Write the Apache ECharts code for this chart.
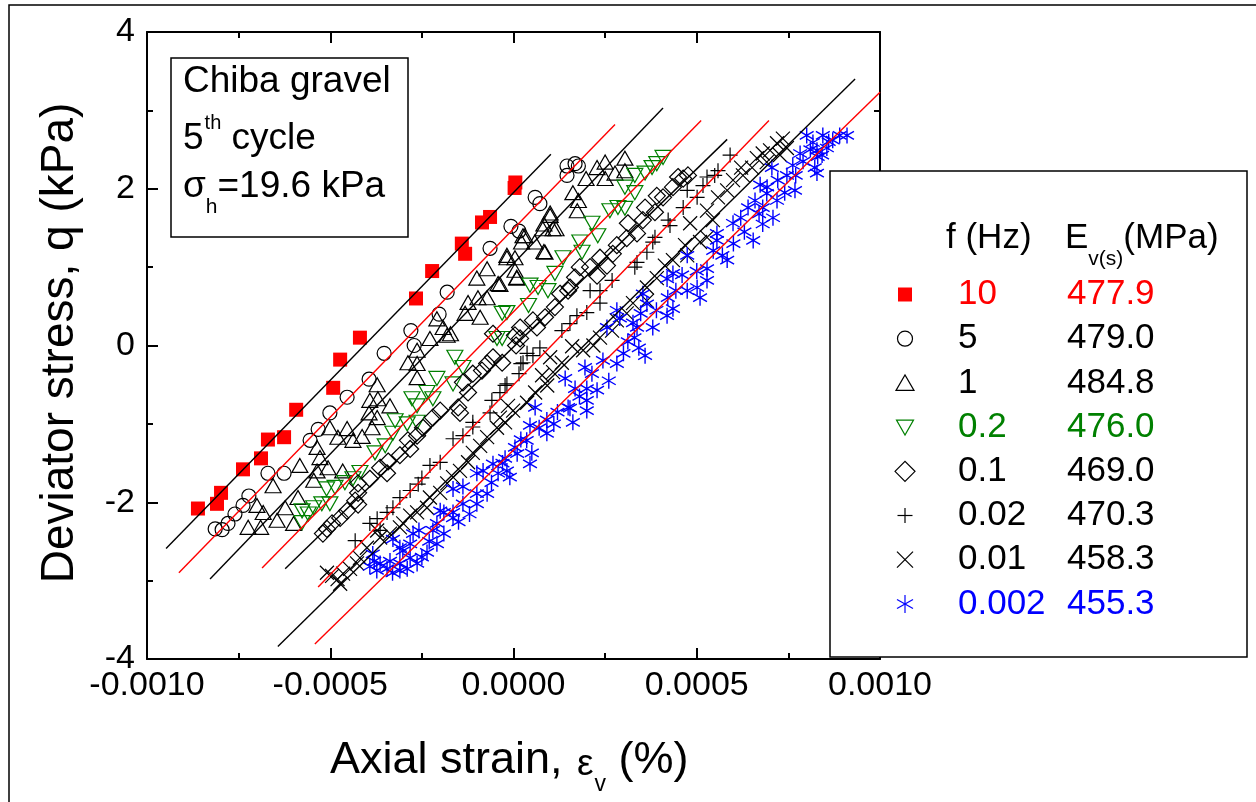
<!DOCTYPE html>
<html><head><meta charset="utf-8">
<script src="https://cdn.jsdelivr.net/npm/echarts@6/dist/echarts.min.js"></script>
<style>html,body{margin:0;padding:0;background:#fff}#c{width:1256px;height:802px}</style>
</head><body><div id="c"></div><script>
// ---------- data (strain %, deviator stress kPa) ----------
const xTicks = [-0.0010, -0.0005, 0.0000, 0.0005, 0.0010];
const yTicks = [-4, -2, 0, 2, 4];
const freqLabels = ['10', '5', '1', '0.2', '0.1', '0.02', '0.01', '0.002'];
const eLabels = ['477.9', '479.0', '484.8', '476.0', '469.0', '470.3', '458.3', '455.3'];

const s10 = [[-0.000861,-2.08],[-0.000809,-2.02],[-0.000798,-1.88],[-0.000738,-1.58],[-0.000689,-1.44],[-0.000670,-1.20],[-0.000626,-1.17],[-0.000593,-0.82],[-0.000492,-0.54],[-0.000473,-0.18],[-0.000419,0.10],[-0.000266,0.60],[-0.000222,0.95],[-0.000141,1.30],[-0.000132,1.17],[-0.000086,1.57],[-0.000064,1.64],[0.000005,2.08],[0.000003,2.01]];
const s5 = [[-0.000814,-2.34],[-0.000795,-2.35],[-0.000779,-2.27],[-0.000760,-2.15],[-0.000738,-2.04],[-0.000722,-1.92],[-0.000670,-1.63],[-0.000626,-1.63],[-0.000555,-1.21],[-0.000533,-1.07],[-0.000501,-0.86],[-0.000454,-0.66],[-0.000394,-0.43],[-0.000353,-0.10],[-0.000271,0.00],[-0.000280,0.19],[-0.000203,0.40],[-0.000181,0.68],[-0.000064,1.24],[-0.000007,1.52],[0.000015,1.46],[0.000059,1.89],[0.000072,1.81],[0.000146,2.29],[0.000168,2.32],[0.000146,2.17],[0.000177,2.29]];
const s1 = [[-0.000724,-2.32],[-0.000690,-2.32],[-0.000700,-2.04],[-0.000683,-2.13],[-0.000645,-2.23],[-0.000600,-2.27],[-0.000623,-2.07],[-0.000588,-1.94],[-0.000656,-1.79],[-0.000545,-1.72],[-0.000583,-1.53],[-0.000536,-1.60],[-0.000506,-1.56],[-0.000466,-1.60],[-0.000536,-1.30],[-0.000528,-1.43],[-0.000501,-1.05],[-0.000479,-1.17],[-0.000454,-1.06],[-0.000438,-1.21],[-0.000413,-1.16],[-0.000386,-1.05],[-0.000372,-0.92],[-0.000394,-0.86],[-0.000337,-0.77],[-0.000370,-0.68],[-0.000392,-0.70],[-0.000372,-0.50],[-0.000263,-0.41],[-0.000288,-0.22],[-0.000263,-0.23],[-0.000263,-0.06],[-0.000181,0.13],[-0.000228,0.09],[-0.000172,0.15],[-0.000192,0.23],[-0.000209,0.34],[-0.000091,0.36],[-0.000132,0.41],[-0.000124,0.55],[-0.000097,0.61],[-0.000072,0.61],[-0.000042,0.79],[-0.000100,0.86],[0.000009,0.87],[-0.000072,0.98],[-0.000037,0.78],[0.000004,0.96],[0.000009,0.86],[-0.000018,1.12],[0.000004,1.12],[-0.000018,1.15],[0.000031,1.40],[0.000026,1.40],[0.000022,1.32],[0.000058,1.32],[0.000083,1.20],[0.000086,1.19],[0.000080,1.49],[0.000116,1.49],[0.000083,1.55],[0.000108,1.49],[0.000100,1.66],[0.000100,1.69],[0.000162,1.95],[0.000177,1.85],[0.000174,1.72],[0.000198,2.13],[0.000228,2.27],[0.000250,2.34],[0.000250,2.13],[0.000277,2.20],[0.000304,2.23],[0.000304,2.39]];
const s02 = [[-0.000577,-2.26],[-0.000560,-2.15],[-0.000577,-2.11],[-0.000545,-2.07],[-0.000523,-2.02],[-0.000501,-2.02],[-0.000510,-1.83],[-0.000487,-1.81],[-0.000460,-1.75],[-0.000438,-1.70],[-0.000419,-1.62],[-0.000378,-1.37],[-0.000350,-1.28],[-0.000329,-1.12],[-0.000323,-0.96],[-0.000290,-1.00],[-0.000263,-0.98],[-0.000277,-0.68],[-0.000263,-0.77],[-0.000220,-0.68],[-0.000236,-0.60],[-0.000209,-0.42],[-0.000165,-0.49],[-0.000160,-0.15],[-0.000138,-0.28],[-0.000045,0.09],[-0.000031,0.09],[-0.000031,0.41],[-0.000018,0.42],[0.000041,0.51],[0.000045,0.77],[0.000067,0.74],[0.000094,0.70],[0.000113,0.92],[0.000135,1.12],[0.000181,1.32],[0.000187,1.19],[0.000214,1.56],[0.000230,1.40],[0.000263,1.72],[0.000285,1.76],[0.000304,1.75],[0.000304,2.02],[0.000331,1.95],[0.000331,2.17],[0.000359,2.20],[0.000378,2.27],[0.000391,2.32],[0.000408,2.40]];
const s01 = [[-0.000520,-2.40],[-0.000509,-2.34],[-0.000495,-2.27],[-0.000473,-2.20],[-0.000454,-2.11],[-0.000424,-2.03],[-0.000432,-1.98],[-0.000424,-1.88],[-0.000424,-1.76],[-0.000392,-1.70],[-0.000345,-1.63],[-0.000364,-1.56],[-0.000342,-1.48],[-0.000310,-1.40],[-0.000282,-1.32],[-0.000288,-1.21],[-0.000263,-1.15],[-0.000247,-1.05],[-0.000220,-0.92],[-0.000200,-0.83],[-0.000146,-0.86],[-0.000151,-0.79],[-0.000124,-0.60],[-0.000138,-0.47],[-0.000111,-0.36],[-0.000086,-0.32],[-0.000072,-0.23],[-0.000031,-0.22],[-0.000056,-0.15],[-0.000056,0.15],[0.000004,0.13],[0.000007,0.00],[0.000018,0.09],[0.000018,0.23],[0.000053,0.32],[0.000064,0.23],[0.000086,0.36],[0.000113,0.49],[0.000127,0.66],[0.000149,0.70],[0.000154,0.74],[0.000168,0.87],[0.000181,1.00],[0.000209,1.00],[0.000228,0.89],[0.000236,1.12],[0.000255,1.02],[0.000282,1.28],[0.000271,1.17],[0.000309,1.37],[0.000337,1.43],[0.000312,1.56],[0.000353,1.60],[0.000359,1.76],[0.000386,1.70],[0.000391,1.91],[0.000408,1.89],[0.000435,2.02],[0.000449,2.15],[0.000463,2.13],[0.000476,2.17]];
const s002 = [[-0.000432,-2.49],[-0.000392,-2.27],[-0.000364,-2.36],[-0.000372,-2.21],[-0.000345,-2.13],[-0.000329,-2.07],[-0.000310,-1.94],[-0.000282,-1.85],[-0.000260,-1.77],[-0.000250,-1.69],[-0.000228,-1.53],[-0.000200,-1.49],[-0.000165,-1.19],[-0.000138,-1.15],[-0.000111,-0.98],[-0.000111,-1.04],[-0.000064,-0.86],[-0.000059,-0.70],[-0.000037,-0.60],[-0.000018,-0.49],[-0.000023,-0.51],[0.000015,-0.36],[0.000020,-0.23],[0.000026,-0.22],[0.000037,-0.10],[0.000053,-0.13],[0.000072,-0.03],[0.000132,0.19],[0.000154,0.28],[0.000173,0.38],[0.000200,0.42],[0.000236,0.54],[0.000209,0.70],[0.000236,0.70],[0.000269,0.83],[0.000331,1.00],[0.000337,1.06],[0.000364,1.19],[0.000380,1.32],[0.000386,1.38],[0.000422,1.60],[0.000427,1.53],[0.000463,1.76],[0.000474,1.98],[0.000501,1.89],[0.000517,2.04],[0.000528,2.15],[0.000549,2.17],[0.000558,2.23],[0.000591,2.43]];
const s001 = [[-0.000509,-2.90],[-0.000495,-2.94],[-0.000480,-2.98],[-0.000473,-3.04],[-0.000465,-2.91],[-0.000446,-2.85],[-0.000427,-2.78],[-0.000419,-2.71],[-0.000400,-2.58],[-0.000372,-2.36],[-0.000364,-2.45],[-0.000337,-2.40],[-0.000310,-2.32],[-0.000301,-2.27],[-0.000282,-2.17],[-0.000263,-2.13],[-0.000236,-2.07],[-0.000228,-1.94],[-0.000200,-1.88],[-0.000181,-1.76],[-0.000165,-1.68],[-0.000146,-1.60],[-0.000124,-1.49],[-0.000111,-1.37],[-0.000091,-1.28],[-0.000072,-1.17],[-0.000045,-1.05],[-0.000037,-0.92],[-0.000015,-0.77],[-0.000023,-0.98],[-0.000001,-0.83],[0.000037,-0.73],[0.000059,-0.60],[0.000092,-0.51],[0.000078,-0.38],[0.000108,-0.34],[0.000132,-0.22],[0.000100,-0.15],[0.000160,-0.01],[0.000190,-0.06],[0.000218,0.00],[0.000236,0.10],[0.000269,0.19],[0.000282,0.32],[0.000309,0.41],[0.000326,0.54],[0.000364,0.57],[0.000364,0.74],[0.000391,0.86],[0.000413,1.02],[0.000435,1.09],[0.000474,1.15],[0.000468,1.28],[0.000509,1.32],[0.000528,1.38],[0.000482,1.56],[0.000528,1.72],[0.000544,1.60],[0.000558,1.89],[0.000583,1.98],[0.000599,2.11],[0.000626,2.17],[0.000651,2.27],[0.000621,2.27],[0.000664,2.39],[0.000691,2.34],[0.000680,2.45],[0.000700,2.49],[0.000719,2.58],[0.000746,2.52],[0.000735,2.64],[0.000727,2.43]];
const s0002 = [[-0.000364,-2.78],[-0.000373,-2.87],[-0.000384,-2.66],[-0.000380,-2.75],[-0.000392,-2.82],[-0.000337,-2.75],[-0.000345,-2.85],[-0.000329,-2.47],[-0.000310,-2.58],[-0.000310,-2.87],[-0.000302,-2.62],[-0.000310,-2.78],[-0.000282,-2.53],[-0.000274,-2.40],[-0.000282,-2.71],[-0.000263,-2.78],[-0.000258,-2.36],[-0.000236,-2.64],[-0.000220,-2.36],[-0.000209,-2.53],[-0.000209,-2.27],[-0.000200,-2.11],[-0.000190,-2.13],[-0.000165,-2.13],[-0.000165,-1.83],[-0.000165,-2.20],[-0.000138,-2.02],[-0.000138,-1.80],[-0.000100,-2.02],[-0.000100,-1.89],[-0.000072,-1.89],[-0.000100,-1.63],[-0.000083,-1.60],[-0.000056,-1.51],[-0.000042,-1.63],[-0.000023,-1.44],[-0.000018,-1.60],[0.000004,-1.30],[-0.000010,-1.68],[0.000010,-1.38],[0.000050,-1.37],[0.000045,-1.51],[0.000036,-1.21],[0.000045,-1.02],[0.000059,-0.79],[0.000091,-1.12],[0.000091,-0.95],[0.000110,-1.00],[0.000141,-0.42],[0.000149,-0.79],[0.000154,-0.80],[0.000162,-0.98],[0.000168,-0.55],[0.000200,-0.55],[0.000200,-0.83],[0.000200,-0.70],[0.000214,-0.36],[0.000195,-0.28],[0.000228,-0.57],[0.000244,-0.19],[0.000282,-0.23],[0.000255,0.23],[0.000282,0.45],[0.000290,0.35],[0.000312,0.05],[0.000326,0.29],[0.000337,0.23],[0.000342,-0.03],[0.000353,0.66],[0.000364,0.53],[0.000347,0.41],[0.000359,-0.13],[0.000380,0.23],[0.000435,0.92],[0.000419,0.85],[0.000443,0.70],[0.000421,0.61],[0.000435,0.47],[0.000419,0.38],[0.000474,1.15],[0.000474,0.70],[0.000501,0.74],[0.000528,0.98],[0.000528,0.83],[0.000509,0.61],[0.000555,1.34],[0.000545,1.21],[0.000555,1.43],[0.000570,1.15],[0.000583,1.09],[0.000599,1.56],[0.000620,1.63],[0.000640,1.76],[0.000659,1.85],[0.000654,1.34],[0.000670,1.68],[0.000680,1.76],[0.000708,1.63],[0.000691,1.94],[0.000719,1.85],[0.000692,2.02],[0.000673,2.05],[0.000721,2.11],[0.000705,2.27],[0.000746,2.17],[0.000762,2.30],[0.000768,1.98],[0.000770,2.17],[0.000782,2.45],[0.000828,2.20],[0.000800,2.68],[0.000817,2.59],[0.000822,2.27],[0.000828,2.49],[0.000830,2.41],[0.000844,2.68],[0.000855,2.52],[0.000842,2.43],[0.000871,2.62],[0.000890,2.68],[0.000910,2.68],
  [-0.000330,-2.90],[-0.000290,-2.85],[-0.000250,-2.70],[-0.000230,-2.50],[-0.000190,-2.40],[-0.000150,-2.25],[-0.000120,-2.15],[-0.000060,-1.75],[-0.000030,-1.50],[0.000020,-1.20],[0.000070,-1.05],[0.000120,-0.85],[0.000180,-0.65],[0.000260,-0.45],[0.000300,-0.10],[0.000330,0.10],[0.000390,0.45],[0.000460,0.90],[0.000500,0.95],[0.000600,1.30],[0.000630,1.45],[0.000680,1.55],[0.000740,1.95],[0.000790,2.35],[0.000810,2.50],[0.000860,2.60]];

// fitted lines (end points)
const fit10 = [[-0.000948,-2.59],[0.000102,2.44]];
const fit5 = [[-0.000913,-2.90],[0.000277,2.82]];
const fit1 = [[-0.000828,-2.98],[0.000408,3.03]];
const fit02 = [[-0.000686,-2.84],[0.000512,2.87]];
const fit01 = [[-0.000623,-2.85],[0.000583,2.63]];
const fit002 = [[-0.000533,-3.08],[0.000697,2.87]];
const fit001 = [[-0.000643,-3.84],[0.000932,3.40]];
const fit0002 = [[-0.000542,-3.81],[0.001000,3.23]];

// ---------- styling ----------
const FF = '"Liberation Sans", Arial, Helvetica, sans-serif';
const RED = '#ff0000', GREEN = '#008000', BLUE = '#0000ff', BLACK = '#000000';
const PLUS = 'path://M5 0L5 10M0 5L10 5';
const CROSS = 'path://M0 0L10 10M10 0L0 10';
const STAR = 'path://M5 0L5 10M0.67 2.5L9.33 7.5M0.67 7.5L9.33 2.5';

const defs = [
  {data: s10, symbol: 'rect', size: 14, color: RED, filled: true},
  {data: s5, symbol: 'circle', size: 14, color: BLACK},
  {data: s1, symbol: 'triangle', size: [16, 14], color: BLACK},
  {data: s02, symbol: 'triangle', size: [16, 14], color: GREEN, rotate: 180},
  {data: s01, symbol: 'diamond', size: 17, color: BLACK},
  {data: s002, symbol: PLUS, size: 15, color: BLACK},
  {data: s001, symbol: CROSS, size: 14, color: BLACK},
  {data: s0002, symbol: STAR, size: 16, color: BLUE, bw: 1.4}
];
const fits = [[fit10, BLACK], [fit5, RED], [fit1, BLACK], [fit02, RED], [fit01, BLACK], [fit002, RED], [fit001, BLACK], [fit0002, RED]];
const legendColors = [RED, BLACK, BLACK, GREEN, BLACK, BLACK, BLACK, BLUE];

const series = [];
defs.forEach((d, i) => {
  series.push({
    type: 'scatter', name: freqLabels[i] + ' Hz', data: d.data,
    symbol: d.symbol, symbolSize: d.size, symbolRotate: d.rotate || 0, symbolKeepAspect: true,
    itemStyle: d.filled ? {color: d.color, borderWidth: 0, opacity: 1}
                        : {color: 'rgba(0,0,0,0)', borderColor: d.color, borderWidth: d.bw || 1.2, opacity: 1},
    emphasis: {disabled: true}, silent: true, z: 2, animation: false
  });
});
fits.forEach(([d, c]) => {
  series.push({type: 'line', data: d, symbol: 'none', showSymbol: false,
    lineStyle: {color: c, width: 1.4}, silent: true, z: 3, animation: false});
});

// ---------- text helpers ----------
const mctx = document.createElement('canvas').getContext('2d');
function tw(t, fs) { mctx.font = fs + 'px ' + FF; return mctx.measureText(t).width; }
function txt(t, x, y, fs, color, align, extra) {
  return Object.assign({type: 'text', x: x, y: y, z: 120, silent: true,
    style: {text: t, fontSize: fs, fontFamily: FF, fill: color || BLACK,
      align: align || 'left', textAlign: align || 'left', verticalAlign: 'middle', textVerticalAlign: 'middle'}}, extra || {});
}

const g = [];
// outer frame
g.push({type: 'rect', z: 1, silent: true, shape: {x: 9, y: 5, width: 1400, height: 1000}, style: {fill: 'none', stroke: BLACK, lineWidth: 1.5}});
// info box
g.push({type: 'rect', z: 110, silent: true, shape: {x: 171, y: 58, width: 237, height: 179}, style: {fill: '#fff', stroke: BLACK, lineWidth: 1.5}});
g.push(txt('Chiba gravel', 183, 82, 37));
let x0 = 183;
g.push(txt('5', x0, 139, 37)); x0 += tw('5', 37);
g.push(txt('th', x0 + 1, 123, 20)); x0 += tw('th', 20) + 1;
g.push(txt(' cycle', x0, 139, 37));
x0 = 183;
g.push(txt('σ', x0, 187, 37)); x0 += tw('σ', 37);
g.push(txt('h', x0, 207, 21)); x0 += tw('h', 21);
g.push(txt('=19.6 kPa', x0, 187, 37));

// legend box
g.push({type: 'rect', z: 110, silent: true, shape: {x: 830, y: 171, width: 417, height: 486}, style: {fill: '#fff', stroke: BLACK, lineWidth: 1.5}});
g.push(txt('f (Hz)', 946, 238, 35));
x0 = 1065;
g.push(txt('E', x0, 238, 35)); x0 += tw('E', 35);
g.push(txt('v(s)', x0, 259, 21)); x0 += tw('v(s)', 21);
g.push(txt('(MPa)', x0, 238, 35));
const SX = 905;
freqLabels.forEach((f, i) => {
  const y = 294.5 + i * 44.2;
  const c = legendColors[i];
  const st = {fill: 'none', stroke: c, lineWidth: 1.2};
  const base = {z: 120, silent: true};
  if (i === 0) g.push(Object.assign({type: 'rect', shape: {x: SX - 7, y: y - 7, width: 14, height: 14}, style: {fill: c}}, base));
  if (i === 1) g.push(Object.assign({type: 'circle', shape: {cx: SX, cy: y, r: 7.5}, style: st}, base));
  if (i === 2) g.push(Object.assign({type: 'polygon', shape: {points: [[SX - 9, y + 7.5], [SX + 9, y + 7.5], [SX, y - 8]]}, style: st}, base));
  if (i === 3) g.push(Object.assign({type: 'polygon', shape: {points: [[SX - 8.5, y - 7], [SX + 8.5, y - 7], [SX, y + 8]]}, style: st}, base));
  if (i === 4) g.push(Object.assign({type: 'polygon', shape: {points: [[SX - 10, y], [SX, y - 10], [SX + 10, y], [SX, y + 10]]}, style: st}, base));
  if (i === 5) {
    g.push(Object.assign({type: 'line', shape: {x1: SX - 7.5, y1: y, x2: SX + 7.5, y2: y}, style: st}, base));
    g.push(Object.assign({type: 'line', shape: {x1: SX, y1: y - 7.5, x2: SX, y2: y + 7.5}, style: st}, base));
  }
  if (i === 6) {
    g.push(Object.assign({type: 'line', shape: {x1: SX - 8, y1: y - 8, x2: SX + 8, y2: y + 8}, style: st}, base));
    g.push(Object.assign({type: 'line', shape: {x1: SX - 8, y1: y + 8, x2: SX + 8, y2: y - 8}, style: st}, base));
  }
  if (i === 7) {
    g.push(Object.assign({type: 'line', shape: {x1: SX, y1: y - 9, x2: SX, y2: y + 9}, style: st}, base));
    g.push(Object.assign({type: 'line', shape: {x1: SX - 8, y1: y - 4.5, x2: SX + 8, y2: y + 4.5}, style: st}, base));
    g.push(Object.assign({type: 'line', shape: {x1: SX - 8, y1: y + 4.5, x2: SX + 8, y2: y - 4.5}, style: st}, base));
  }
  g.push(txt(f, 958, y, 35, c));
  g.push(txt(eLabels[i], 1067, y, 35, c));
});

// axis titles
x0 = 330;
g.push(txt('Axial strain, ', x0, 761, 45)); x0 += tw('Axial strain, ', 45);
g.push(txt('ε', x0 + 2, 765, 37)); x0 += tw('ε', 37) + 3;
g.push(txt('v', x0, 785, 23)); x0 += tw('v', 23);
g.push(txt(' (%)', x0, 761, 45));
g.push(txt('Deviator stress, q (kPa)', 60, 343, 46, BLACK, 'center', {rotation: Math.PI / 2}));

// ---------- axes ----------
const axLine = {show: true, onZero: false, lineStyle: {color: BLACK, width: 2}};
const tick = {show: true, inside: true, length: 11, lineStyle: {color: BLACK, width: 2}};
const minor = {show: true, splitNumber: 2, length: 6, lineStyle: {color: BLACK, width: 2}};
const xBase = {type: 'value', min: xTicks[0], max: xTicks[xTicks.length - 1], interval: xTicks[1] - xTicks[0],
  axisLine: axLine, axisTick: tick, minorTick: minor, splitLine: {show: false}, minorSplitLine: {show: false}};
const yBase = {type: 'value', min: yTicks[0], max: yTicks[yTicks.length - 1], interval: yTicks[1] - yTicks[0],
  axisLine: axLine, axisTick: tick, minorTick: minor, splitLine: {show: false}, minorSplitLine: {show: false}};

const option = {
  backgroundColor: '#ffffff',
  animation: false,
  grid: {left: 147, right: 376, top: 32, bottom: 143, containLabel: false, outerBoundsMode: 'none', show: false},
  xAxis: [
    Object.assign({}, xBase, {position: 'bottom',
      axisLabel: {show: true, margin: 10, fontSize: 34, fontFamily: FF, color: BLACK,
        formatter: v => (Math.abs(v) < 1e-12 ? 0 : v).toFixed(4)}}),
    Object.assign({}, xBase, {position: 'top', axisLabel: {show: false}})
  ],
  yAxis: [
    Object.assign({}, yBase, {position: 'left',
      axisLabel: {show: true, margin: 12, fontSize: 34, fontFamily: FF, color: BLACK,
        formatter: v => String(Math.round(v))}}),
    Object.assign({}, yBase, {position: 'right', axisLabel: {show: false}})
  ],
  series: series,
  graphic: {elements: g}
};
const chart = echarts.init(document.getElementById('c'), null, {renderer: 'canvas'});
chart.setOption(option);
</script></body></html>
